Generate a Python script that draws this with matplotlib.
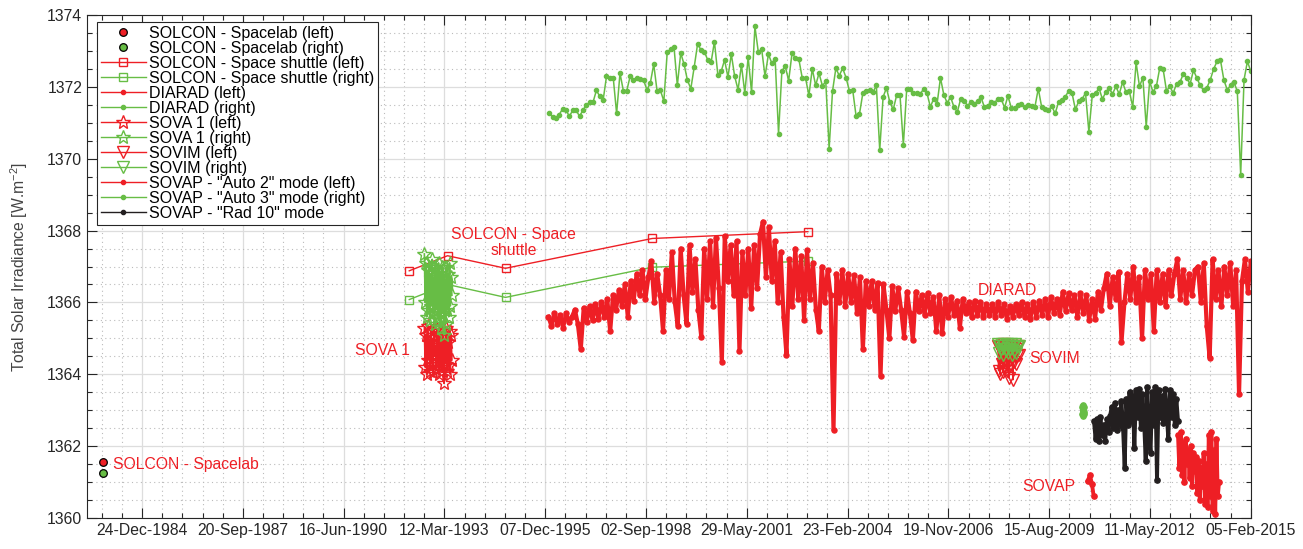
import matplotlib
matplotlib.use("Agg")
import matplotlib.pyplot as plt
import matplotlib.dates as mdates
from matplotlib.ticker import MultipleLocator
import numpy as np
import pandas as pd

plt.rcParams["font.family"] = ["Liberation Sans", "DejaVu Sans"]
plt.rcParams["mathtext.default"] = "regular"

RED = "#EE1F25"
GREEN = "#67BD45"
BLACK = "#231F20"
FS = 11.3

# ---------------------------------------------------------------------------
# Data
# ---------------------------------------------------------------------------

# SOLCON - Spacelab (single measurement)
spacelab_date = ["1983-12-05"]
spacelab_left = [1361.55]
spacelab_right = [1361.25]

# SOLCON - Space shuttle (ATLAS 1-3, STS-95, STS-107)
shuttle_dates = ["1992-03-28", "1993-04-12", "1994-11-08", "1998-11-03", "2003-01-25"]
shuttle_left = [1366.88, 1367.30, 1366.95, 1367.78, 1367.97]
shuttle_right = [1366.08, 1366.50, 1366.14, 1366.98, 1367.15]

# DIARAD (left), roughly monthly samples, 1996-01 .. 2015-02
diarad_left = [
    1365.6, 1365.35, 1365.7, 1365.4, 1365.65, 1365.3, 1365.7, 1365.45, 1365.6,
    1365.8, 1365.4, 1364.7, 1365.85, 1365.45, 1365.9, 1365.5, 1365.95, 1365.55, 1366.0, 1365.6, 1366.1,
    1365.2, 1366.2, 1365.8, 1366.35, 1365.9, 1366.5, 1365.6, 1366.6, 1366.05, 1366.8, 1366.2,
    1366.9, 1366.1, 1366.7, 1367.15, 1366.0, 1366.8, 1366.2, 1365.2,
    1366.9, 1366.1, 1367.4, 1366.0, 1365.35, 1367.5, 1366.2, 1365.4, 1367.6, 1366.3, 1367.2, 1365.8,
    1365.05, 1367.5, 1366.1,
    1367.7, 1365.9, 1367.8, 1366.4, 1364.35, 1367.85, 1366.6, 1367.6, 1366.2, 1367.7, 1364.65,
    1367.4, 1366.2, 1367.5, 1365.85, 1367.6, 1366.4, 1367.9, 1368.25, 1366.7, 1368.1, 1366.6,
    1367.7, 1366.0, 1367.4, 1365.6, 1364.55, 1367.2, 1365.9, 1367.5, 1366.1, 1367.3, 1365.5,
    1367.45, 1366.1, 1367.1, 1365.8, 1365.2, 1367.0, 1366.0, 1366.9, 1366.2, 1362.45, 1366.8, 1366.0,
    1366.9, 1365.9, 1366.8, 1366.0, 1366.75, 1365.7, 1366.7, 1364.7, 1366.6, 1365.9, 1366.6,
    1365.8, 1366.55, 1363.95, 1366.5, 1365.8, 1365.0, 1366.45, 1365.75, 1366.4, 1365.8, 1365.05,
    1366.3, 1365.7, 1364.95, 1366.3, 1365.75, 1366.2, 1365.65, 1366.25, 1365.7, 1366.15, 1365.2,
    1366.2, 1365.15, 1366.1, 1365.6, 1366.15, 1365.65, 1366.05, 1365.3, 1366.1, 1365.7, 1366.0,
    1365.6, 1366.05, 1365.65,
    1366.0, 1365.6, 1365.95, 1365.65, 1365.95, 1365.6, 1366.0, 1365.65, 1365.95, 1365.55, 1365.9,
    1365.6, 1365.95, 1365.65, 1366.0, 1365.6, 1365.95, 1365.55, 1366.0, 1365.6, 1366.05, 1365.65,
    1366.1, 1365.6, 1366.15, 1365.7, 1366.1, 1365.65,
    1366.3, 1365.75, 1366.25, 1365.8, 1366.2, 1365.6, 1366.25, 1365.7, 1366.2, 1365.5, 1366.1,
    1365.55, 1366.3, 1365.8, 1366.4,
    1366.8, 1365.9, 1366.7, 1366.1, 1366.85, 1364.9, 1366.0, 1366.8, 1366.1, 1367.0, 1366.0,
    1366.7, 1365.0, 1366.9, 1366.1, 1366.8, 1365.2, 1366.9, 1366.0, 1366.8, 1365.9, 1366.9,
    1366.2, 1366.8, 1367.2, 1366.1, 1366.9, 1366.0, 1366.8, 1366.2, 1366.9,
    1367.0, 1366.0, 1367.1, 1365.35, 1364.45, 1367.2, 1366.1, 1366.9, 1365.9, 1367.0, 1366.2,
    1367.1, 1365.9, 1366.9, 1363.45, 1366.6, 1367.2, 1366.3, 1367.15,
]
diarad_left_span = ("1996-01-08", "2015-02-05")

# DIARAD (right), sparse reference-channel measurements
diarad_right = [
    1371.28, 1371.16, 1371.12, 1371.23, 1371.39, 1371.35, 1371.18, 1371.35, 1371.35, 1371.18,
    1371.35, 1371.49, 1371.57, 1371.57, 1371.90, 1371.74, 1371.63, 1372.29, 1372.25, 1372.25,
    1371.26, 1372.38, 1371.89, 1371.89, 1372.29, 1372.18, 1372.25, 1372.22, 1372.18, 1371.92,
    1372.11, 1372.63, 1371.88, 1371.90, 1371.60, 1372.96, 1373.05, 1373.12, 1372.04, 1372.94,
    1372.63, 1372.18, 1371.95, 1372.55, 1373.19, 1373.03, 1372.98, 1372.75, 1372.68, 1373.26,
    1372.34, 1372.43, 1372.75, 1372.27, 1372.91, 1372.29, 1371.92, 1372.61, 1371.83, 1372.82,
    1371.85, 1373.68, 1372.97, 1373.05, 1372.29, 1372.91, 1372.66, 1372.77, 1370.70, 1372.45,
    1372.57, 1372.17, 1372.94, 1372.80, 1372.78, 1372.26, 1372.25, 1371.76, 1372.50, 1372.04,
    1372.38, 1372.03, 1372.15, 1370.28, 1371.88, 1372.52, 1372.31, 1372.52, 1372.26, 1371.89,
    1371.90, 1371.18, 1371.25, 1371.83, 1371.89, 1371.92, 1371.85, 1372.04, 1370.24, 1371.72,
    1371.97, 1371.57, 1371.37, 1371.76, 1371.78, 1370.38,
    1371.95, 1371.95, 1371.83, 1371.82, 1371.80, 1371.94, 1371.83, 1371.44, 1371.67, 1371.53,
    1372.25, 1371.78, 1371.55, 1371.72, 1371.44, 1371.30, 1371.67, 1371.62, 1371.48, 1371.57,
    1371.53, 1371.60, 1371.72, 1371.44, 1371.48, 1371.57, 1371.55, 1371.67, 1371.67, 1371.42,
    1371.74, 1371.42, 1371.42, 1371.49, 1371.53, 1371.44, 1371.49, 1371.48, 1371.44, 1371.95,
    1371.44, 1371.39, 1371.35, 1371.46, 1371.26, 1371.57, 1371.63, 1371.72, 1371.89, 1371.83,
    1371.37, 1371.60, 1371.66, 1371.83, 1370.75, 1371.76, 1371.82, 1371.97, 1371.66, 1371.85,
    1371.97, 1371.80, 1372.01, 1371.80, 1372.13, 1371.85, 1371.88, 1371.44, 1372.68, 1372.01,
    1372.26, 1370.89, 1372.15, 1371.86, 1372.01, 1372.52, 1372.50, 1371.89, 1372.01, 1371.83,
    1372.09, 1372.13, 1372.36, 1372.25, 1372.08, 1372.46, 1372.25, 1372.04, 1371.90, 1371.98,
    1372.20, 1372.50, 1372.71, 1372.75, 1372.20, 1371.92, 1372.04, 1372.13, 1371.88, 1369.55,
    1372.20, 1372.71, 1372.43,
]
diarad_right_span = ("1996-01-15", "2015-02-05")

# SOVA 1 (EURECA)
sova_span = ("1992-08-25", "1993-05-25")
sova_left = [
    1365.3, 1364.2, 1365.1, 1364.0, 1365.35, 1364.4, 1364.9, 1364.1, 1365.2, 1364.3,
    1365.0, 1364.05, 1365.3, 1364.5, 1364.8, 1364.15, 1365.25, 1364.35, 1365.1, 1364.0,
    1365.3, 1364.2, 1364.9, 1364.1, 1365.2, 1363.75, 1365.0, 1364.3, 1365.3, 1364.1,
    1364.9, 1364.25, 1365.2, 1364.0, 1365.1, 1364.4,
]
sova_right = [
    1367.35, 1366.0, 1367.1, 1365.6, 1366.9, 1365.8, 1367.0, 1365.5, 1366.8, 1365.9,
    1367.2, 1365.7, 1366.7, 1365.4, 1367.0, 1365.8, 1366.9, 1365.6, 1367.1, 1365.5,
    1366.8, 1365.3, 1367.0, 1365.7, 1366.9, 1365.1, 1366.6, 1365.4, 1367.0, 1365.8,
    1366.8, 1365.6, 1367.1, 1365.9, 1366.7, 1366.2,
]

# SOVIM (ISS)
sovim_span = ("2008-03-25", "2008-10-15")
sovim_left = [
    1364.8, 1364.1, 1364.75, 1364.0, 1364.8, 1364.3, 1364.7, 1364.05, 1364.85, 1364.2,
    1364.8, 1364.35, 1364.75, 1364.1, 1364.8, 1363.9, 1364.7, 1364.4, 1364.8, 1364.25,
    1364.75, 1363.85, 1364.6, 1364.35, 1364.8, 1364.3, 1364.7, 1364.5, 1364.8, 1364.55,
]
sovim_right = [
    1364.85, 1364.6, 1364.8, 1364.7, 1364.85, 1364.55, 1364.8, 1364.65, 1364.85, 1364.6,
    1364.8, 1364.7, 1364.85, 1364.55, 1364.8, 1364.65, 1364.85, 1364.6, 1364.75, 1364.8,
]

# SOVAP (PICARD)
sovap_a2_early_dates = ["2010-08-31", "2010-09-23", "2010-10-13", "2010-10-30"]
sovap_a2_early = [1361.03, 1361.19, 1360.95, 1360.61]
sovap_a2_late_span = ("2013-02-13", "2014-03-27")
sovap_a2_late = [
    1362.3, 1361.4, 1362.4, 1361.2, 1362.1, 1361.0, 1362.2, 1361.5, 1361.9, 1361.1,
    1362.0, 1360.9, 1361.8, 1361.3, 1361.7, 1360.7, 1361.6, 1360.5, 1361.4, 1360.9,
    1361.8, 1360.4, 1361.5, 1360.3, 1362.3, 1360.6, 1362.4, 1360.2, 1361.9, 1360.1,
    1362.2, 1360.6, 1361.0,
]
sovap_a3_span = ("2010-07-05", "2010-07-30")
sovap_a3 = [1363.1, 1362.9, 1363.15, 1362.85, 1363.05, 1362.95, 1363.1, 1362.9]
sovap_rad10_span = ("2010-11-02", "2013-02-13")
sovap_rad10 = [
    1362.7, 1362.2, 1362.75, 1362.15, 1362.8, 1362.3, 1362.6, 1362.15, 1362.75, 1362.4, 1362.85,
    1363.1, 1362.5, 1363.2, 1362.45, 1363.0, 1362.6, 1363.25, 1362.5,
    1361.4, 1363.3, 1362.6, 1363.5, 1362.7, 1363.4, 1361.95, 1363.55, 1362.8, 1363.6,
    1362.5, 1363.45, 1362.7, 1361.6, 1363.65, 1362.4, 1361.8, 1363.5, 1362.6, 1363.65,
    1361.05, 1363.55, 1362.8, 1363.4, 1362.65, 1363.6, 1362.9, 1362.2, 1363.55, 1362.8,
    1363.45, 1362.6, 1363.3, 1362.7,
]


def span(rng, values):
    return pd.date_range(rng[0], rng[1], periods=len(values))


# ---------------------------------------------------------------------------
# Plot
# ---------------------------------------------------------------------------

fig = plt.figure(figsize=(13.03, 5.49), dpi=100)
ax = fig.add_axes([87 / 1303, 1 - 518 / 549, (1251 - 87) / 1303, (518 - 15) / 549])

ax.plot(pd.to_datetime(spacelab_date), spacelab_left, "o", ls="none", mfc=RED, mec="black",
        ms=5.5, mew=0.9, label="SOLCON - Spacelab (left)")
ax.plot(pd.to_datetime(spacelab_date), spacelab_right, "o", ls="none", mfc=GREEN, mec="black",
        ms=5.5, mew=0.9, label="SOLCON - Spacelab (right)")

ax.plot(pd.to_datetime(shuttle_dates), shuttle_left, "-s", color=RED, mfc="none", ms=6,
        lw=1.0, label="SOLCON - Space shuttle (left)")
ax.plot(pd.to_datetime(shuttle_dates), shuttle_right, "-s", color=GREEN, mfc="none", ms=6,
        lw=1.0, label="SOLCON - Space shuttle (right)")

# dense channel: thick line so the day-to-day scatter reads as a band
ax.plot(span(diarad_left_span, diarad_left), diarad_left, "-", marker="o",
        color=RED, ms=3.6, lw=3.0, label="DIARAD (left)")
ax.plot(span(diarad_right_span, diarad_right), diarad_right, "-", marker=".", color=GREEN,
        ms=6, lw=1.1, label="DIARAD (right)")

ax.plot(span(sova_span, sova_left), sova_left, "-*", color=RED, mfc="none", ms=10, lw=1.2,
        label="SOVA 1 (left)")
ax.plot(span(sova_span, sova_right), sova_right, "-*", color=GREEN, mfc="none", ms=10, lw=1.2,
        label="SOVA 1 (right)")

ax.plot(span(sovim_span, sovim_left), sovim_left, "-v", color=RED, mfc="none", ms=8, lw=1.2,
        label="SOVIM (left)")
ax.plot(span(sovim_span, sovim_right), sovim_right, "-v", color=GREEN, mfc="none", ms=8, lw=1.2,
        label="SOVIM (right)")

a2_dates = list(pd.to_datetime(sovap_a2_early_dates)) + [pd.Timestamp("2012-01-01")] + \
    list(span(sovap_a2_late_span, sovap_a2_late))
a2_vals = sovap_a2_early + [np.nan] + sovap_a2_late
ax.plot(a2_dates, a2_vals, "-", marker="o", color=RED, ms=3.8, lw=2.8,
        label='SOVAP - "Auto 2" mode (left)')
ax.plot(span(sovap_a3_span, sovap_a3), sovap_a3, "-", marker="o", color=GREEN, ms=3.8,
        lw=2.8, label='SOVAP - "Auto 3" mode (right)')
ax.plot(span(sovap_rad10_span, sovap_rad10), sovap_rad10, "-", marker="o", color=BLACK,
        ms=3.8, lw=2.8, label='SOVAP - "Rad 10" mode')

# annotations
txt = dict(color=RED, fontsize=FS, va="center")
ax.text(pd.Timestamp("1984-03-11"), 1361.5, "SOLCON - Spacelab", ha="left", **txt)
ax.text(pd.Timestamp("1995-01-25"), 1367.66, "SOLCON - Space\nshuttle", ha="center",
        linespacing=1.05, **txt)
ax.text(pd.Timestamp("1991-07-04"), 1364.66, "SOVA 1", ha="center", **txt)
ax.text(pd.Timestamp("2008-07-01"), 1366.33, "DIARAD", ha="center", **txt)
ax.text(pd.Timestamp("2009-01-25"), 1364.44, "SOVIM", ha="left", **txt)
ax.text(pd.Timestamp("2009-08-12"), 1360.87, "SOVAP", ha="center", **txt)

# axes
ax.set_xlim(pd.Timestamp("1983-06-27"), pd.Timestamp("2015-02-07"))
ax.set_ylim(1360, 1374)
major = pd.date_range("1984-12-24", periods=12, freq="1000D")
minor = pd.date_range("1983-11-20", "2015-02-07", freq="200D")
ax.set_xticks(mdates.date2num(major.to_pydatetime()))
ax.set_xticks(mdates.date2num(minor.to_pydatetime()), minor=True)
ax.xaxis.set_major_formatter(mdates.DateFormatter("%d-%b-%Y"))
ax.set_yticks(np.arange(1360, 1375, 2))
ax.yaxis.set_minor_locator(MultipleLocator(0.5))

ax.set_axisbelow(True)
ax.grid(which="major", color="#DDDDDD", lw=0.9, ls="-")
ax.grid(which="minor", color="#BBBBBB", lw=0.8, ls=(0, (1, 3)))
ax.tick_params(which="both", direction="in", top=True, right=True, color="#262626",
               labelcolor="#262626", labelsize=FS)
ax.tick_params(which="major", length=7, width=0.8)
ax.tick_params(which="minor", length=3.5, width=0.8)
for sp in ax.spines.values():
    sp.set_color("#262626")
    sp.set_linewidth(0.8)

ax.set_ylabel("Total Solar Irradiance [W.m$^{-2}$]", fontsize=FS, color="#444444", labelpad=12)

leg = ax.legend(loc="upper left", bbox_to_anchor=(10 / 1164, 1 - 7 / 503), borderaxespad=0,
                fancybox=False, edgecolor="#262626", framealpha=1, fontsize=11.5,
                labelspacing=0.0, handlelength=2.8, handletextpad=0.2, borderpad=0.25)
leg.get_frame().set_linewidth(0.8)
# thin lines in the legend, as in the original
for h in leg.get_lines():
    h.set_linewidth(1.0)
    if h.get_marker() == "o" and h.get_linestyle() != "None":
        h.set_markersize(3)

fig.savefig("out.png", dpi=100)
